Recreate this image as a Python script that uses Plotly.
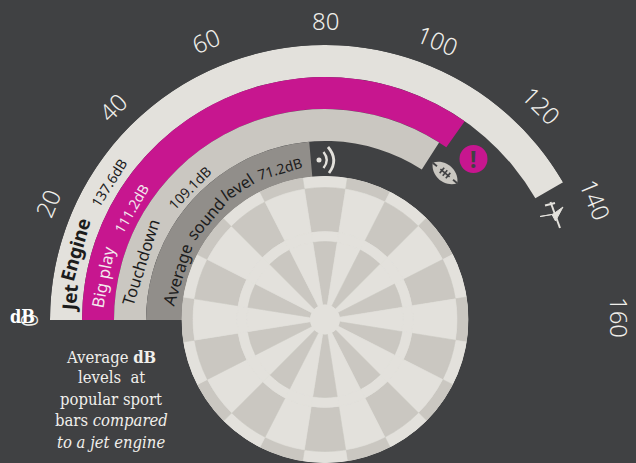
import math
import plotly.graph_objects as go

W, H = 636, 463
CX, CY = 325, 320
BG = "#404143"
LIGHT = "#e3e1dc"
MID = "#cac7c1"
GRAY = "#918e8a"
PINK = "#c7168f"
INK = "#1c1c1c"
SANS = "Noto Sans"
SLAB = "DejaVu Serif Condensed"

# bars, outermost first
categories = ["Jet Engine", "Big play", "Touchdown", "Average sound level"]
drawn_db = [133.3, 111.2, 109.1, 75.5]
bar_colors = [LIGHT, PINK, MID, GRAY]
band_outer = [275, 243, 211, 179]
band_inner = [243, 211, 179, 143]

tick_values = [0, 20, 40, 60, 80, 100, 120, 140, 160]
tick_radius = [297, 301, 301, 304, 300, 301, 305, 296, 294]
tick_nudge = [0, 0.3, 0, -0.6, 0, -0.5, 0.3, -1.5, -0.4]
DEG_PER_DB = 180 / 160

# (word, sweep degrees, radius, colour, bold, size)
bar_words = [
    ("Jet", 4.9, 256, INK, True, 19),
    ("Engine", 15.6, 259, INK, True, 19),
    ("137.6dB", 32.5, 256, INK, False, 14),
    ("Big play", 11.0, 226, "#f3e9ee", False, 16.5),
    ("111.2dB", 30.0, 224, "#f3e9ee", False, 14),
    ("Touchdown", 17.5, 193, INK, False, 16.5),
    ("109.1dB", 44.4, 189, INK, False, 14),
    ("Average", 17.2, 155, INK, False, 16.5),
    ("sound", 40.4, 157, INK, False, 16.5),
    ("level", 56.8, 159, INK, False, 16.5),
    ("71.2dB", 73.5, 158, INK, False, 14),
]

caption_lines = ["Average <b>dB</b>", "levels  at", "popular sport",
                 "bars <i>compared</i>", "<i>to a jet engine</i>"]
caption_y = [357, 377, 399, 420, 442]

# dartboard: 20 wedges, rings from outside in
dart_wedges = list(range(0, 360, 18))
ring_edges = [143.5, 132, 88, 78, 15]
ring_even = [LIGHT, MID, LIGHT, MID]
ring_odd = [MID, LIGHT, LIGHT, LIGHT]


def px(x, y):
    return x / W, 1 - y / H


def sweep_xy(sweep, r):
    a = math.radians(sweep)
    return CX - r * math.cos(a), CY - r * math.sin(a)


fig = go.Figure()

for name, db, col, ro, ri in zip(categories, drawn_db, bar_colors, band_outer, band_inner):
    s = db * DEG_PER_DB
    fig.add_trace(go.Barpolar(theta=[s / 2], width=[s], r=[ro - ri], base=[ri],
                              marker=dict(color=col, line=dict(width=0)),
                              name=name, subplot="polar", showlegend=False))

# light disc beneath the wedges so that their seams stay light
fig.add_trace(go.Barpolar(theta=[0], width=[360], r=[ring_edges[0]], base=[0],
                          marker=dict(color=LIGHT, line=dict(width=0)),
                          subplot="polar2", showlegend=False))
for i in range(4):
    cols = [ring_even[i] if k % 2 == 0 else ring_odd[i] for k in range(len(dart_wedges))]
    fig.add_trace(go.Barpolar(theta=dart_wedges, width=[18] * len(dart_wedges),
                              r=[ring_edges[i] - ring_edges[i + 1]] * len(dart_wedges),
                              base=[ring_edges[i + 1]] * len(dart_wedges),
                              marker=dict(color=cols, line=dict(width=0.6, color=cols)),
                              subplot="polar2", showlegend=False))
fig.add_trace(go.Barpolar(theta=[0], width=[360], r=[ring_edges[-1]], base=[0],
                          marker=dict(color=LIGHT, line=dict(width=0)),
                          subplot="polar2", showlegend=False))

hidden_axis = dict(visible=False, showgrid=False, showline=False, showticklabels=False, ticks="")

annotations = []


def label(x, y, text, size, color, angle=0, family=SANS, weight=None):
    fx, fy = px(x, y)
    f = dict(size=size, color=color, family=family)
    if weight:
        f["weight"] = weight
    annotations.append(dict(x=fx, y=fy, xref="paper", yref="paper", text=text, showarrow=False,
                            textangle=angle, font=f, xanchor="center", yanchor="middle"))


for v, r, n in zip(tick_values, tick_radius, tick_nudge):
    s = v * DEG_PER_DB
    x, y = sweep_xy(s + n, r)
    label(x, y, str(v), 24, "#f0efeb", s - 90, weight=300)

for word, s, r, col, bold, size in bar_words:
    x, y = sweep_xy(s, r)
    label(x, y, word, size, col, s - 90, weight=700 if bold else 400)

for t, y in zip(caption_lines, caption_y):
    label(111, y, t, 16.5, "#f0efeb", family=SLAB)

label(22, 316, "<b>dB</b>", 18, "#ffffff", family=SLAB)
label(473.5, 158.5, "<b>!</b>", 23, BG)

shapes = []


def fmt(pts, close=False):
    parts = []
    for i, (x, y) in enumerate(pts):
        fx, fy = px(x, y)
        parts.append(("M" if i == 0 else "L") + f"{fx:.5f},{fy:.5f}")
    return " ".join(parts) + (" Z" if close else "")


def stroke(d, color=LIGHT, width=2.2, fill=None):
    shapes.append(dict(type="path", xref="paper", yref="paper", path=d,
                       line=dict(color=color, width=width),
                       fillcolor=fill if fill else "rgba(0,0,0,0)"))


def q(p0, c, p1):
    a, b, e = px(*p0), px(*c), px(*p1)
    return f"M{a[0]:.5f},{a[1]:.5f} Q{b[0]:.5f},{b[1]:.5f} {e[0]:.5f},{e[1]:.5f}"


# alert disc
x0, y1 = px(459.5, 145)
x1, y0 = px(487.5, 173)
shapes.append(dict(type="circle", xref="paper", yref="paper", x0=x0, x1=x1, y0=y0, y1=y1,
                   fillcolor=PINK, line=dict(width=0)))

# football
fa = math.radians(40)


def fb(u, v):
    return 445 + u * math.cos(fa) - v * math.sin(fa), 173 + u * math.sin(fa) + v * math.cos(fa)


def fbp(u, v):
    p = px(*fb(u, v))
    return f"{p[0]:.5f},{p[1]:.5f}"


shapes.append(dict(type="path", xref="paper", yref="paper",
                   path=f"M{fbp(-16, 0)} C{fbp(-9, -11.5)} {fbp(9, -11.5)} {fbp(16, 0)} "
                        f"C{fbp(9, 11.5)} {fbp(-9, 11.5)} {fbp(-16, 0)} Z",
                   fillcolor=MID, line=dict(width=0)))
stroke(fmt([fb(-16, 0), fb(-10.5, 0)]), BG, 1.8)
stroke(fmt([fb(10.5, 0), fb(16, 0)]), BG, 1.8)
stroke(fmt([fb(-6, 0), fb(6, 0)]), BG, 1.6)
for u in (-4, 0, 4):
    stroke(fmt([fb(u, -3.5), fb(u, 3.5)]), BG, 1.6)

# aeroplane
stroke(fmt([(550.5, 202), (560, 228)]), LIGHT, 2)
stroke(fmt([(545, 205.5), (555, 203)]), LIGHT, 2)
stroke(fmt([(540, 216.5), (552, 214.5), (555.5, 221), (563, 207), (554, 213.5), (552, 214.5)], True),
       LIGHT, 1, LIGHT)

# sound waves
x0, y1 = px(316.5, 157.5)
x1, y0 = px(321.5, 162.5)
shapes.append(dict(type="circle", xref="paper", yref="paper", x0=x0, x1=x1, y0=y0, y1=y1,
                   fillcolor=LIGHT, line=dict(width=0)))
stroke(q((323.5, 152), (330, 160), (323.5, 168)), LIGHT, 2.4)
stroke(q((328, 147), (339, 160), (329, 173)), LIGHT, 2.8)

fig.update_layout(
    width=W, height=H, autosize=False,
    margin=dict(l=0, r=0, t=0, b=0),
    paper_bgcolor=BG, plot_bgcolor=BG,
    showlegend=False,
    polar=dict(domain=dict(x=[50 / W, 600 / W], y=[(H - 320) / H, (H - 45) / H]),
               sector=[0, 180], bgcolor="rgba(0,0,0,0)", barmode="overlay",
               radialaxis=dict(range=[0, 275], **hidden_axis),
               angularaxis=dict(direction="clockwise", rotation=180, **hidden_axis)),
    polar2=dict(domain=dict(x=[(CX - 143.5) / W, (CX + 143.5) / W], y=[0, 287 / H]),
                bgcolor="rgba(0,0,0,0)", barmode="overlay",
                radialaxis=dict(range=[0, 143.5], **hidden_axis),
                angularaxis=dict(direction="clockwise", rotation=90, **hidden_axis)),
    annotations=annotations,
    shapes=shapes,
)

fig.write_html("out.html", config=dict(displayModeBar=False),
               post_script="document.body.style.margin='0';document.body.style.background='%s';"
                           "document.documentElement.style.overflow='hidden';" % BG)
